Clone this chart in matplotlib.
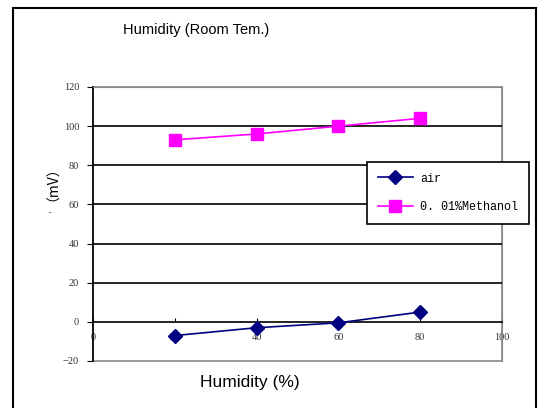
import matplotlib.pyplot as plt
from matplotlib.patches import Rectangle

humidity = [20, 40, 60, 80]
air = [-7, -3, -0.5, 5]
methanol = [93, 96, 100, 104]
x_ticks = [0, 20, 40, 60, 80, 100]
y_ticks = [-20, 0, 20, 40, 60, 80, 100, 120]

fig = plt.figure(figsize=(5.4, 4.08), dpi=100)
fig.patches.append(Rectangle((13 / 540, -0.02), 523 / 540, 1.0 - 8 / 408 + 0.02,
                             transform=fig.transFigure, fill=False,
                             edgecolor="black", linewidth=1.5))

ax = fig.add_axes([93 / 540, 1 - 361 / 408, 409 / 540, 274 / 408])
ax.set_xlim(0, 100)
ax.set_ylim(-20, 120)

for v in [20, 40, 60, 80, 100]:
    ax.axhline(v, color="black", linewidth=1.2, zorder=1)

ax.plot(humidity, air, color="#000080", marker="D", markersize=7, linewidth=1.2,
        label="air", zorder=3)
ax.plot(humidity, methanol, color="#ff00ff", marker="s", markersize=8, linewidth=1.2,
        label="0. 01%Methanol", zorder=3)

ax.spines["bottom"].set_position(("data", 0))
ax.spines["bottom"].set_color("black")
ax.spines["bottom"].set_linewidth(1.2)
ax.spines["left"].set_color("black")
ax.spines["left"].set_linewidth(1.2)
for s in ["top", "right"]:
    ax.spines[s].set_color("#888888")
ax.add_patch(Rectangle((0, -20), 100, 140, fill=False, edgecolor="#888888",
                       linewidth=1.2, zorder=0.5, clip_on=False))

ax.set_xticks(x_ticks)
ax.set_yticks(y_ticks)
ax.tick_params(axis="x", direction="in", length=3, labelsize=7.5, colors="black",
               labelcolor="#333333", pad=8)
ax.tick_params(axis="y", direction="out", length=4, labelsize=7.5,
               labelcolor="#333333", pad=6)
for t in ax.get_xticklabels() + ax.get_yticklabels():
    t.set_fontfamily("Liberation Serif")

fig.text(123 / 540, 1 - 30 / 408, "Humidity (Room Tem.)", fontsize=10.5,
         fontfamily="Liberation Sans", va="center", ha="left")
fig.text(250 / 540, 1 - 382 / 408, "Humidity (%)", fontsize=12.5,
         fontfamily="Liberation Sans", va="center", ha="center")
fig.text(46 / 540, 1 - 177 / 408, "（mV）", fontsize=10, rotation=90,
         fontfamily=["Noto Sans CJK JP", "DejaVu Sans"], va="center", ha="center")
fig.text(50 / 540, 1 - 210 / 408, ".", fontsize=9, va="center", ha="center")

leg = ax.legend(loc="upper left", bbox_to_anchor=(367 / 540, 1 - 162 / 408),
                bbox_transform=fig.transFigure, frameon=True, fancybox=False,
                framealpha=1, edgecolor="black", borderaxespad=0,
                prop={"family": "Liberation Mono", "size": 8.5},
                handlelength=3.0, handletextpad=0.6, labelspacing=1.4,
                borderpad=0.9)
leg.get_frame().set_linewidth(1.2)
leg.set_zorder(5)

fig.savefig("out.png", dpi=100)
